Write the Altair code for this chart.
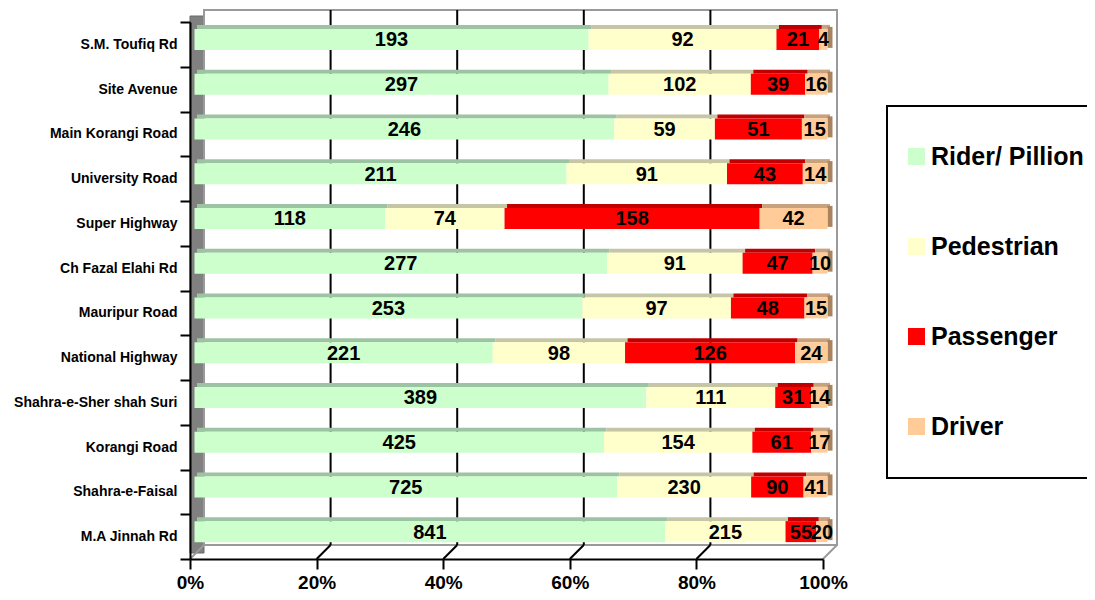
import altair as alt
import pandas as pd

roads = ["S.M. Toufiq Rd", "Site Avenue", "Main Korangi Road", "University Road",
         "Super Highway", "Ch Fazal Elahi Rd", "Mauripur Road", "National Highway",
         "Shahra-e-Sher shah Suri", "Korangi Road", "Shahra-e-Faisal", "M.A Jinnah Rd"]
series = ["Rider/ Pillion", "Pedestrian", "Passenger", "Driver"]
rider = [193, 297, 246, 211, 118, 277, 253, 221, 389, 425, 725, 841]
pedestrian = [92, 102, 59, 91, 74, 91, 97, 98, 111, 154, 230, 215]
passenger = [21, 39, 51, 43, 158, 47, 48, 126, 31, 61, 90, 55]
driver = [4, 16, 15, 14, 42, 10, 15, 24, 14, 17, 41, 20]
tick_values = [0, 0.2, 0.4, 0.6, 0.8, 1.0]

front_colors = ["#CCFFCC", "#FFFFCC", "#FF0000", "#FFCC99"]
top_colors = ["#9DC4A2", "#C6C6A6", "#C00000", "#C8A27E"]
FONT = "Liberation Sans, Arial, sans-serif"

rows = []
for s_i, (name, vals) in enumerate(zip(series, [rider, pedestrian, passenger, driver])):
    for r, v in zip(roads, vals):
        rows.append({"road": r, "series": name, "value": v, "order": s_i,
                     "top": top_colors[s_i]})
df = pd.DataFrame(rows)
ticks_df = pd.DataFrame({"v": tick_values})
wall_df = pd.DataFrame({"a": [tick_values[0]], "b": [tick_values[-1]]})

xs = alt.Scale(domain=[0, 1], nice=False, zero=False)
ys = alt.Scale(domain=roads, paddingInner=0, paddingOuter=0)

x_axis = alt.Axis(values=tick_values, format="%", title=None, grid=False,
                  labelFont=FONT, labelFontSize=19, labelFontWeight="bold", labelColor="black",
                  tickSize=10, tickWidth=2, tickColor="black",
                  domainColor="black", domainWidth=2, labelPadding=4, labelFlush=False, zindex=1)
y_axis = alt.Axis(title=None, labelFont=FONT, labelFontSize=14, labelFontWeight="bold",
                  labelColor="black", tickSize=10, tickWidth=2, tickColor="black",
                  domainColor="black", domainWidth=2, tickBand="extent", labelPadding=3,
                  labelLimit=300, zindex=1)

base = (alt.Chart(df)
        .transform_joinaggregate(total="sum(value)", groupby=["road"])
        .transform_calculate(frac="datum.value / datum.total")
        .transform_stack(stack="frac", groupby=["road"], as_=["x0", "x1"],
                         sort=[alt.SortField("order", order="ascending")])
        .transform_calculate(mid="(datum.x0 + datum.x1) / 2", xe="datum.x1"))

Y = alt.Y("road:N", sort=roads, scale=ys, axis=y_axis)

side_wall = alt.Chart(wall_df).mark_rect(fill="#808080", stroke="#6a6a6a", strokeWidth=1).encode(
    x=alt.value(0), x2=alt.value(14), y=alt.value(-6), y2=alt.value(531))

back_wall = alt.Chart(wall_df).mark_rect(fill="white", stroke="#9a9a9a", strokeWidth=2,
                                         xOffset=14, x2Offset=14).encode(
    x=alt.X("a:Q", scale=xs, axis=x_axis), x2="b:Q", y=alt.value(-12), y2=alt.value(523))

grid = alt.Chart(ticks_df).transform_filter("datum.v > 0 && datum.v < 1").mark_rule(
    xOffset=14, color="black", strokeWidth=2).encode(
    x=alt.X("v:Q", scale=xs), y=alt.value(-12), y2=alt.value(523))

diag = alt.Chart(ticks_df).mark_rule(strokeWidth=2, x2Offset=14).encode(
    x=alt.X("v:Q", scale=xs), x2="v:Q", y=alt.value(537), y2=alt.value(523),
    color=alt.condition("datum.v > 0 && datum.v < 1", alt.value("black"), alt.value("#9a9a9a")))

bevel = base.mark_bar(size=4, yOffset=-17.5, xOffset=7, x2Offset=7).encode(
    x=alt.X("x0:Q", scale=xs), x2="x1:Q", y=Y, color=alt.Color("top:N", scale=None))

front = base.mark_bar(size=21, yOffset=-5, xOffset=4.5, x2Offset=4.5).encode(
    x=alt.X("x0:Q", scale=xs), x2="x1:Q", y=Y,
    color=alt.Color("series:N", scale=alt.Scale(domain=series, range=front_colors),
                    legend=alt.Legend(orient="none", legendX=697, legendY=84, title=None,
                                      direction="vertical", labelFont=FONT, labelFontSize=25,
                                      labelFontWeight="bold", labelColor="black",
                                      symbolType="square", symbolSize=289, symbolStrokeWidth=0,
                                      rowPadding=64, padding=38, symbolOffset=-21, labelOffset=2,
                                      labelLimit=400, strokeColor="black", fillColor="white")))

end_face = base.transform_filter(alt.datum.series == series[-1]).mark_bar(
    size=21, yOffset=-7, xOffset=4.5, x2Offset=9.5, color="#A8835E").encode(
    x=alt.X("x1:Q", scale=xs), x2="xe:Q", y=Y)

labels = base.mark_text(font=FONT, fontSize=20, fontWeight="bold", color="black",
                        dx=4.5, dy=-4, baseline="middle").encode(
    x=alt.X("mid:Q", scale=xs), y=Y, text="value:Q")

chart = (alt.layer(side_wall, back_wall, grid, diag, bevel, end_face, front, labels)
         .properties(width=633, height=537,
                     autosize=alt.AutoSizeParams(type="none"),
                     padding={"left": 182, "top": 14, "right": 264, "bottom": 33})
         .configure_view(strokeWidth=0)
         .configure_legend(strokeWidth=2))

chart.save("out.html", embed_options={"renderer": "svg", "actions": False})
